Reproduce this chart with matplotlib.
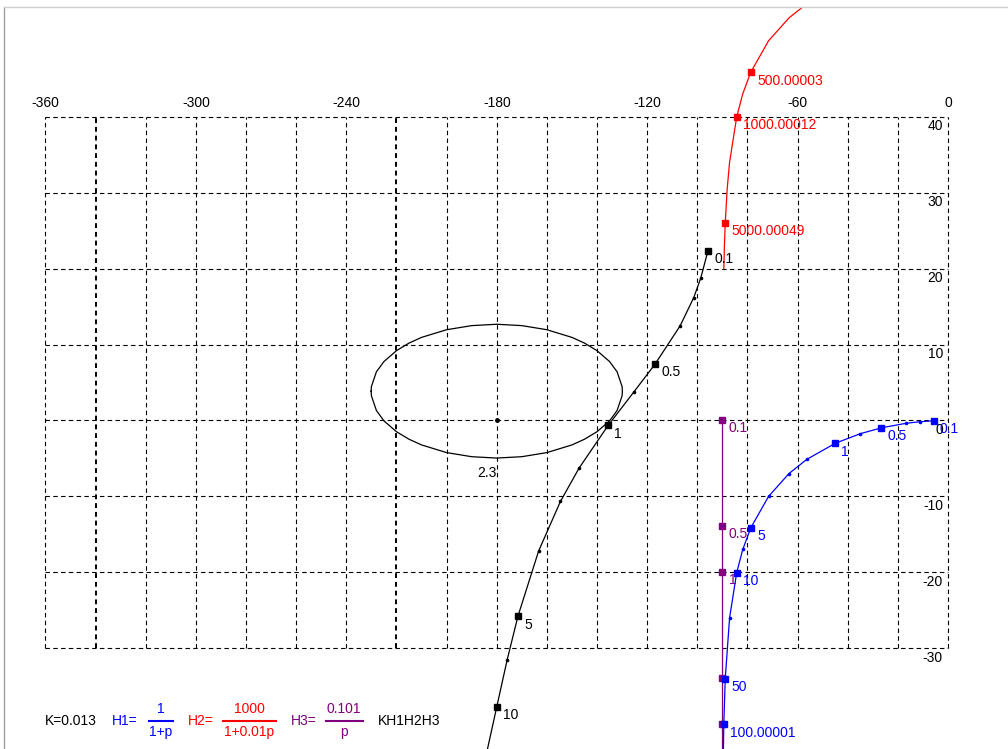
import matplotlib
matplotlib.use('Agg')
import matplotlib.pyplot as plt
from matplotlib.lines import Line2D

plt.rcParams['font.family'] = ['Liberation Sans', 'DejaVu Sans']

W, H = 1008, 749
TOP = 7     # bord haut de la fenetre (px)
LEFT = 4    # bord gauche de la fenetre (px)

# grille (phase en degres, gain en dB)
phase_grid = list(range(-360, 1, 20))
phase_labels = [-360, -300, -240, -180, -120, -60, 0]
gain_grid = list(range(-30, 41, 10))
bold_phase = [-340, -220]

# H1 = 1/(1+p)
h1_phase = [-5.71, -11.31, -16.70, -26.57, -34.99, -45.00, -56.31, -63.43, -71.57,
            -78.69, -81.87, -84.29, -87.14, -88.85, -89.43, -89.71]
h1_gain = [-0.04, -0.17, -0.37, -0.97, -1.74, -3.01, -5.12, -6.99, -10.00,
           -14.15, -16.99, -20.04, -26.03, -33.98, -40.00, -46.02]
h1_pt_phase = [-5.71, -26.57, -45.00, -78.69, -84.29, -88.85, -89.43]
h1_pt_gain = [-0.04, -0.97, -3.01, -14.15, -20.04, -33.98, -40.00]
h1_pt_text = ['0.1', '0.5', '1', '5', '10', '50', '100.00001']

# H2 = 1000/(1+0.01p)
h2_phase = [-45.00, -56.31, -63.43, -71.57, -78.69, -81.87, -84.29, -87.14,
            -88.09, -88.85, -89.18, -89.43]
h2_gain = [56.99, 54.88, 53.01, 50.00, 45.85, 43.01, 39.96, 33.97,
           30.46, 26.02, 23.10, 20.00]
h2_pt_phase = [-78.69, -84.29, -88.85]
h2_pt_gain = [45.85, 39.96, 26.02]
h2_pt_text = ['500.00003', '1000.00012', '5000.00049']

# H3 = 0.101/p
h3_phase = [-90, -90, -90, -90, -90, -90]
h3_gain = [0.09, -13.89, -19.91, -33.89, -39.91, -53.90]
h3_pt_phase = [-90, -90, -90, -90, -90]
h3_pt_gain = [0.09, -13.89, -19.91, -33.89, -39.91]
h3_pt_text = ['0.1', '0.5', '1', '', '']

# K*H1*H2*H3
kh_phase = [-95.77, -98.62, -101.43, -106.87, -116.86, -125.39, -135.57, -147.17,
            -154.58, -163.29, -171.55, -175.87, -180.00, -184.72]
kh_gain = [22.32, 18.75, 16.17, 12.45, 7.42, 3.72, -0.65, -6.28,
           -10.65, -17.18, -25.78, -31.55, -37.72, -44.79]
kh_pt_phase = [-95.77, -116.86, -135.57, -171.55, -180.00]
kh_pt_gain = [22.32, 7.42, -0.65, -25.78, -37.72]
kh_pt_text = ['0.1', '0.5', '1', '5', '10']

# contour M = 2.3 dB
m_phase = [-230.1, -230, -228, -225, -220, -215, -210, -200, -190, -180, -170, -160,
           -150, -145, -140, -135, -132, -130, -129.9, -130, -132, -135, -140, -145,
           -150, -160, -170, -180, -190, -200, -210, -215, -220, -225, -228, -230, -230.1]
m_gain = [3.86, 4.47, 6.41, 7.76, 9.19, 10.19, 10.94, 11.95, 12.49, 12.67, 12.49, 11.95,
          10.94, 10.19, 9.19, 7.76, 6.41, 4.47, 3.86, 3.25, 1.31, -0.05, -1.48, -2.47,
          -3.22, -4.23, -4.77, -4.95, -4.77, -4.23, -3.22, -2.47, -1.48, -0.05, 1.31, 3.25, 3.86]
m_center = (-180, 0)
m_text = '2.3'


def px(x, y):
    return x / W, 1 - y / H


def draw_curve(ax, ph, g, pph, pg, ptxt, color, dots=1.6):
    ax.plot(ph, g, color=color, lw=0.9, marker='o', ms=dots, mec=color, mfc=color)
    ax.plot(pph, pg, ls='none', marker='s', ms=4.5, color=color)
    for x, y, t in zip(pph, pg, ptxt):
        if t:
            ax.annotate(t, (x, y), xytext=(4.5, -6), textcoords='offset points',
                        ha='left', va='center', color=color, fontsize=10)


def main():
    fig = plt.figure(figsize=(W / 100, H / 100), dpi=100)
    ax = fig.add_axes([LEFT / W, 0, 1 - LEFT / W, 1 - TOP / H])
    # 0 deg a x=948 px, -360 a 45.5 px ; 40 dB a 116.7 px, -30 dB a 648.3 px
    ax.set_xlim(-360 - (45.5 - LEFT) / 2.507, (1008 - 948) / 2.507)
    ax.set_ylim(-30 - (749 - 648.3) / 7.594, 40 + (116.7 - TOP) / 7.594)
    ax.axis('off')

    # grille pointillee
    for x in phase_grid:
        if x in bold_phase:
            ax.plot([x, x], [-30, 40], color='black', lw=1.4, ls=(0, (2.5, 2)), zorder=1)
        else:
            ax.plot([x, x], [-30, 40], color='black', lw=0.8, ls=(0, (4, 3)), zorder=1)
    for y in gain_grid:
        ax.plot([-360, 0], [y, y], color='black', lw=0.8, ls=(0, (4, 3)), zorder=1)

    for x in phase_labels:
        ax.text(x, 41.8, str(x), ha='center', va='center', fontsize=10)
    for y in gain_grid:
        ax.text(-2, y - 1.25, str(y), ha='right', va='center', fontsize=10)

    # contour M
    ax.plot(m_phase, m_gain, color='black', lw=0.9)
    ax.plot(*m_center, marker='o', ms=2.5, color='black')
    ax.text(m_center[0] - 4, m_center[1] - 6.9, m_text, ha='center', va='center', fontsize=10)

    draw_curve(ax, kh_phase, kh_gain, kh_pt_phase, kh_pt_gain, kh_pt_text, 'black')
    draw_curve(ax, h2_phase, h2_gain, h2_pt_phase, h2_pt_gain, h2_pt_text, 'red', dots=0)
    draw_curve(ax, h3_phase, h3_gain, h3_pt_phase, h3_pt_gain, h3_pt_text, 'purple', dots=0)
    draw_curve(ax, h1_phase, h1_gain, h1_pt_phase, h1_pt_gain, h1_pt_text, 'blue')

    # bords de la fenetre
    fig.add_artist(Line2D([LEFT / W, LEFT / W], [0, 1 - TOP / H], color='#a0a0a0', lw=1))
    fig.add_artist(Line2D([LEFT / W, 1], [1 - TOP / H, 1 - TOP / H], color='#d0d0d0', lw=1))

    # fonctions de transfert
    def t(x, y, s, c, ha='left'):
        fig.text(*px(x, y), s, color=c, ha=ha, va='center', fontsize=10)

    def bar(x0, x1, y, c):
        fig.add_artist(Line2D([x0 / W, x1 / W], [1 - y / H, 1 - y / H], color=c, lw=1.5))

    t(45, 721, 'K=0.013', 'black')
    t(112, 721, 'H1=', 'blue')
    t(161, 709, '1', 'blue', 'center')
    bar(149, 173, 721, 'blue')
    t(161, 732, '1+p', 'blue', 'center')
    t(188, 721, 'H2=', 'red')
    t(249, 709, '1000', 'red', 'center')
    bar(223, 276, 721, 'red')
    t(249, 732, '1+0.01p', 'red', 'center')
    t(291, 721, 'H3=', 'purple')
    t(344, 709, '0.101', 'purple', 'center')
    bar(326, 363, 721, 'purple')
    t(344, 732, 'p', 'purple', 'center')
    t(378, 721, 'KH1H2H3', 'black')

    fig.savefig('out.png', dpi=100)


if __name__ == '__main__':
    main()
